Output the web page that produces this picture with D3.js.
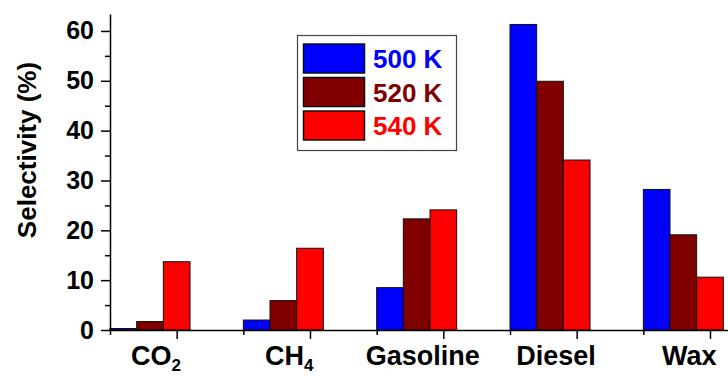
<!DOCTYPE html>
<html>
<head>
<meta charset="utf-8">
<script src="https://cdn.jsdelivr.net/npm/d3@7"></script>
<style>
  body { margin: 0; background: #fff; }
  svg { display: block; font-family: Arial, "Liberation Sans", sans-serif; font-weight: bold; }
</style>
</head>
<body>
<svg id="chart" width="728" height="376"></svg>
<script>
// categories, with the part after "_" set as a subscript
const categories = ["CO_2", "CH_4", "Gasoline", "Diesel", "Wax"];
const seriesNames = ["500 K", "520 K", "540 K"];
const seriesColors = ["#0000ff", "#800000", "#ff0000"];
const sel500 = [0.3, 2.0, 8.5, 61.3, 28.2];
const sel520 = [1.7, 5.9, 22.3, 49.9, 19.1];
const sel540 = [13.7, 16.4, 24.1, 34.1, 10.6];
const yTicks = [0, 10, 20, 30, 40, 50, 60];
const yMinorTicks = [5, 15, 25, 35, 45, 55];

const series = [sel500, sel520, sel540];

const svg = d3.select("#chart");
const plotLeft = 110, plotBottom = 330, plotTop = 14, plotRight = 728;

// category i is centred at x(i); groups sit left of the tick
let x = d3.scaleLinear().domain([-0.5, 4.135]).range([plotLeft, plotRight]);
let y = d3.scaleLinear().domain([0, 63.4]).range([plotBottom, plotTop]);
const barW = x(0.2) - x(0);

// bars
series.forEach(function(vals, s) {
  svg.append("g").selectAll("rect")
    .data(vals)
    .enter()
    .append("rect")
    .attr("x", (d, i) => x(i - 0.5 + 0.2 * s))
    .attr("y", d => y(d))
    .attr("width", barW)
    .attr("height", d => plotBottom - y(d))
    .attr("fill", seriesColors[s])
    .attr("stroke", "#111")
    .attr("stroke-width", 1);
});

// y axis
let yAxis = d3.axisLeft(y).tickValues(yTicks).tickSize(9).tickPadding(7).tickSizeOuter(0);
let gy = svg.append("g").attr("transform", "translate(" + plotLeft + ",0)").call(yAxis);
gy.selectAll("text").attr("font-size", 25).attr("font-family", null).attr("fill", "#000");
gy.select(".domain").attr("stroke-width", 1.5);
gy.selectAll(".tick line").attr("stroke-width", 1.5);
svg.append("g").attr("transform", "translate(" + plotLeft + ",0)")
  .call(d3.axisLeft(y).tickValues(yMinorTicks).tickSize(5).tickFormat(""))
  .call(g => g.select(".domain").remove())
  .selectAll(".tick line").attr("stroke-width", 1.5);

// x axis: long ticks on categories, short ticks between groups
let gx = svg.append("g").attr("transform", "translate(0," + plotBottom + ")")
  .call(d3.axisBottom(x).tickValues(d3.range(categories.length)).tickSize(9).tickFormat("").tickSizeOuter(0));
gx.select(".domain").attr("stroke-width", 1.5);
gx.selectAll(".tick line").attr("stroke-width", 1.5);
svg.append("g").attr("transform", "translate(0," + plotBottom + ")")
  .call(d3.axisBottom(x).tickValues(d3.range(categories.length).map(i => i - 0.5)).tickSize(5).tickFormat(""))
  .call(g => g.select(".domain").remove())
  .selectAll(".tick line").attr("stroke-width", 1.5);

// category labels centred under each group
categories.forEach(function(c, i) {
  const parts = c.split("_");
  const t = svg.append("text")
    .attr("x", x(i - 0.2) + 6)
    .attr("y", 365)
    .attr("text-anchor", "middle")
    .attr("font-size", 27)
    .text(parts[0]);
  if (parts[1]) {
    t.append("tspan").attr("font-size", 17).attr("dy", 6).text(parts[1]);
  }
});

// y title
svg.append("text")
  .attr("transform", "translate(36,150) rotate(-90)")
  .attr("text-anchor", "middle")
  .attr("font-size", 26)
  .text("Selectivity (%)");

// legend
const legend = svg.append("g");
legend.append("rect")
  .attr("x", 297.5).attr("y", 35.5).attr("width", 159).attr("height", 115)
  .attr("fill", "#fff").attr("stroke", "#444").attr("stroke-width", 1.2);
seriesNames.forEach(function(n, s) {
  legend.append("rect")
    .attr("x", 303.5).attr("y", 44 + s * 33.5)
    .attr("width", 61).attr("height", 29)
    .attr("fill", seriesColors[s]).attr("stroke", "#111").attr("stroke-width", 1.5);
  legend.append("text")
    .attr("x", 373).attr("y", 68 + s * 33.5)
    .attr("font-size", 26)
    .attr("fill", seriesColors[s])
    .text(n);
});
</script>
</body>
</html>
